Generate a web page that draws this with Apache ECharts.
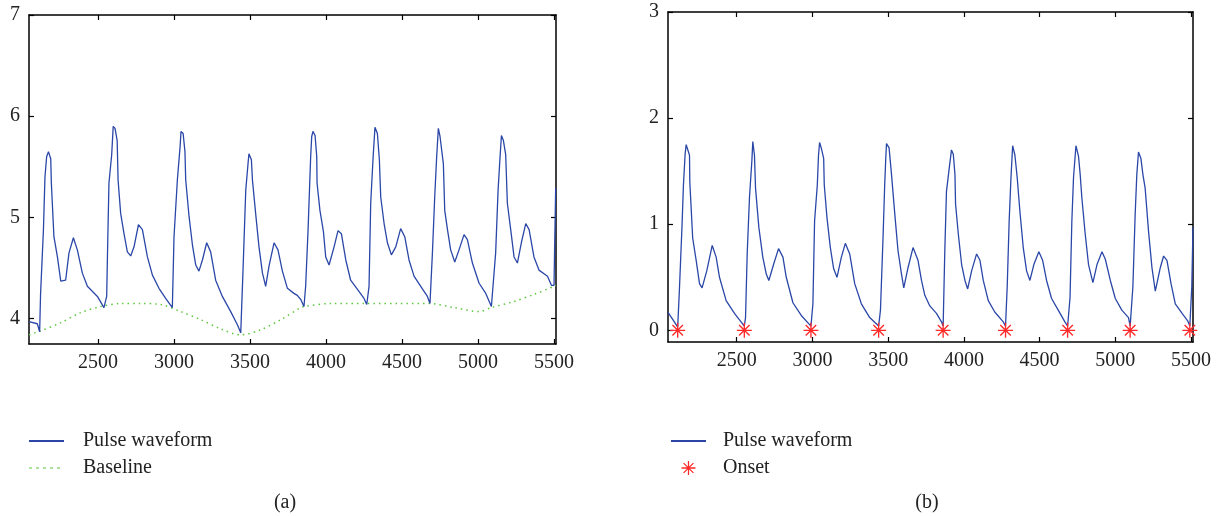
<!DOCTYPE html>
<html>
<head>
<meta charset="utf-8">
<script src="https://cdn.jsdelivr.net/npm/echarts@6/dist/echarts.min.js"></script>
<style>
html,body{margin:0;padding:0;background:#fff;}
#chart{width:1221px;height:516px;}
</style>
</head>
<body>
<div id="chart"></div>
<script>
// ---- data ----
var xTicks = [2500, 3000, 3500, 4000, 4500, 5000, 5500];
var yTicksA = [4, 5, 6, 7];
var yTicksB = [0, 1, 2, 3];

// (a) pulse waveform [sample, value]
var waveformA = [
  [2046,3.97],[2101,3.95],[2116,3.87],[2122,4.24],[2141,4.88],[2151,5.40],[2162,5.60],[2174,5.65],[2189,5.58],[2193,5.34],[2210,4.81],[2233,4.61],[2255,4.37],[2287,4.38],[2309,4.65],[2338,4.80],[2364,4.68],[2397,4.45],[2430,4.32],[2496,4.22],[2539,4.11],
  [2557,4.22],[2564,4.76],[2572,5.34],[2590,5.62],[2600,5.90],[2612,5.88],[2626,5.76],[2632,5.37],[2649,5.04],[2671,4.84],[2693,4.66],[2715,4.62],[2737,4.71],[2766,4.93],[2792,4.88],[2825,4.61],[2858,4.43],[2901,4.30],[2945,4.20],[2989,4.11],
  [2995,4.12],[3000,4.81],[3022,5.37],[3040,5.70],[3046,5.85],[3060,5.83],[3072,5.65],[3077,5.37],[3099,5.01],[3121,4.73],[3143,4.53],[3164,4.47],[3187,4.58],[3215,4.75],[3241,4.66],[3274,4.38],[3318,4.22],[3373,4.07],[3417,3.94],[3439,3.86],
  [3454,4.48],[3472,5.27],[3488,5.55],[3493,5.63],[3509,5.57],[3516,5.37],[3537,5.04],[3559,4.71],[3582,4.45],[3603,4.32],[3625,4.52],[3658,4.75],[3684,4.68],[3713,4.47],[3746,4.30],[3789,4.25],[3811,4.23],[3834,4.19],[3855,4.12],
  [3866,4.32],[3882,4.88],[3899,5.60],[3906,5.80],[3914,5.85],[3928,5.81],[3939,5.60],[3941,5.34],[3960,5.07],[3983,4.86],[3998,4.61],[4020,4.53],[4053,4.71],[4079,4.87],[4101,4.84],[4130,4.58],[4162,4.38],[4207,4.29],[4250,4.20],[4268,4.14],
  [4283,4.32],[4294,5.14],[4310,5.60],[4322,5.89],[4338,5.83],[4351,5.57],[4360,5.20],[4382,4.94],[4404,4.75],[4430,4.63],[4459,4.71],[4491,4.89],[4518,4.81],[4546,4.58],[4579,4.42],[4623,4.32],[4667,4.22],[4684,4.15],
  [4700,4.65],[4715,5.20],[4728,5.60],[4739,5.88],[4750,5.80],[4772,5.53],[4781,5.07],[4799,4.88],[4820,4.68],[4847,4.56],[4875,4.68],[4908,4.83],[4930,4.78],[4963,4.55],[5007,4.35],[5051,4.25],[5088,4.12],
  [5116,4.65],[5132,5.27],[5145,5.60],[5154,5.81],[5167,5.76],[5182,5.62],[5193,5.14],[5215,4.88],[5237,4.61],[5259,4.55],[5285,4.75],[5314,4.94],[5336,4.88],[5368,4.61],[5401,4.48],[5457,4.42],[5483,4.33],[5500,4.33],[5504,4.71],[5511,5.29]
];

// (a) baseline
var baselineA = [
  [2046,3.84],[2123,3.88],[2255,3.96],[2386,4.06],[2518,4.12],[2649,4.15],[2781,4.15],[2912,4.14],[3044,4.07],[3176,3.99],[3307,3.90],[3439,3.84],[3570,3.89],[3702,3.99],[3834,4.11],[3855,4.12],[4031,4.15],[4250,4.15],[4470,4.15],[4678,4.15],[4842,4.11],[5007,4.07],[5088,4.11],[5237,4.17],[5368,4.24],[5500,4.32],[5513,4.33]
];

// (b) baseline-corrected pulse waveform
var waveformB = [
  [2046,0.17],[2055,0.16],[2088,0.08],[2110,0.03],[2121,0.37],[2139,1.00],[2148,1.37],[2159,1.66],[2166,1.75],[2176,1.76],[2188,1.65],[2190,1.40],[2209,0.87],[2232,0.66],[2254,0.44],[2271,0.40],[2302,0.56],[2338,0.80],[2364,0.69],[2386,0.50],[2430,0.28],[2485,0.16],[2550,0.04],
  [2558,0.12],[2569,0.72],[2584,1.25],[2600,1.60],[2606,1.78],[2617,1.65],[2624,1.34],[2646,0.97],[2672,0.69],[2695,0.53],[2712,0.47],[2743,0.62],[2776,0.77],[2805,0.69],[2827,0.50],[2871,0.26],[2926,0.14],[2990,0.04],
  [3003,0.25],[3014,1.03],[3032,1.37],[3040,1.65],[3047,1.77],[3058,1.72],[3074,1.62],[3078,1.37],[3096,1.06],[3118,0.78],[3140,0.58],[3162,0.50],[3191,0.69],[3217,0.82],[3246,0.72],[3279,0.44],[3323,0.25],[3378,0.12],[3437,0.04],
  [3449,0.19],[3466,0.87],[3477,1.37],[3484,1.62],[3489,1.76],[3506,1.72],[3522,1.47],[3544,1.09],[3565,0.75],[3588,0.53],[3603,0.40],[3631,0.59],[3664,0.78],[3697,0.66],[3720,0.47],[3742,0.33],[3775,0.23],[3819,0.16],[3852,0.08],[3863,0.04],
  [3874,0.75],[3885,1.31],[3905,1.55],[3918,1.70],[3930,1.66],[3941,1.47],[3945,1.19],[3963,0.91],[3985,0.62],[4007,0.47],[4025,0.39],[4051,0.56],[4084,0.72],[4106,0.66],[4128,0.47],[4161,0.28],[4205,0.17],[4260,0.08],[4275,0.04],
  [4286,0.41],[4299,1.03],[4311,1.44],[4322,1.74],[4337,1.65],[4352,1.44],[4370,1.12],[4392,0.78],[4414,0.56],[4436,0.47],[4462,0.62],[4495,0.74],[4520,0.66],[4546,0.47],[4579,0.30],[4623,0.19],[4667,0.08],[4685,0.04],
  [4701,0.31],[4713,1.03],[4724,1.44],[4740,1.74],[4757,1.64],[4768,1.47],[4779,1.25],[4801,0.91],[4823,0.62],[4852,0.45],[4879,0.62],[4912,0.74],[4934,0.67],[4967,0.47],[5000,0.30],[5043,0.19],[5087,0.12],[5098,0.04],
  [5116,0.41],[5131,1.09],[5142,1.47],[5153,1.68],[5169,1.62],[5182,1.47],[5197,1.34],[5219,0.94],[5242,0.59],[5264,0.37],[5297,0.59],[5319,0.70],[5341,0.66],[5368,0.44],[5396,0.25],[5441,0.16],[5478,0.09],[5492,0.04],[5505,0.41],[5513,0.97]
];

// (b) detected onsets
var onsetX = [2110, 2550, 2990, 3437, 3863, 4275, 4685, 5098, 5492];
var onsetY = [0, 0, 0, 0, 0, 0, 0, 0, 0];

// ---- chart ----
var FONT = '"Liberation Serif", "DejaVu Serif", serif';
var BLUE = '#2a47a8', GREEN = '#5cc83c', RED = '#ff2a2a';
var STAR = 'path://M-10,-0.9L10,-0.9L10,0.9L-10,0.9ZM-0.9,-10L0.9,-10L0.9,10L-0.9,10ZM-6.36,-7.64L7.64,6.36L6.36,7.64L-7.64,-6.36ZM-7.64,6.36L6.36,-7.64L7.64,-6.36L-6.36,7.64Z';

function plain(v) { return String(v); }

function xAx(grid, pos, labels) {
  return {
    type: 'value', gridIndex: grid, position: pos, min: 2046, max: 5513,
    axisLine: { show: true, onZero: false, lineStyle: { color: '#000', width: 1.5 } },
    axisTick: { show: true, inside: true, length: 5, customValues: xTicks, lineStyle: { color: '#000', width: 1.2 } },
    axisLabel: { show: labels, customValues: xTicks, formatter: plain, margin: 9, color: '#222', fontSize: 20, fontFamily: FONT },
    splitLine: { show: false }
  };
}
function yAx(grid, pos, labels, min, max, ticks) {
  return {
    type: 'value', gridIndex: grid, position: pos, min: min, max: max,
    axisLine: { show: true, onZero: false, lineStyle: { color: '#000', width: 1.5 } },
    axisTick: { show: true, inside: true, length: 5, customValues: ticks, lineStyle: { color: '#000', width: 1.2 } },
    axisLabel: { show: labels, customValues: ticks, formatter: plain, margin: 9, color: '#222', fontSize: 20, fontFamily: FONT },
    splitLine: { show: false }
  };
}

var onsetData = onsetX.map(function (x, i) { return [x, onsetY[i]]; });
var hideSym = { opacity: 0 };

var option = {
  animation: false,
  backgroundColor: '#fff',
  grid: [
    { left: 29, top: 15, width: 527, height: 329 },
    { left: 668, top: 12, width: 525, height: 330 }
  ],
  xAxis: [xAx(0, 'bottom', true), xAx(0, 'top', false), xAx(1, 'bottom', true), xAx(1, 'top', false)],
  yAxis: [yAx(0, 'left', true, 3.75, 7, yTicksA), yAx(0, 'right', false, 3.75, 7, yTicksA),
          yAx(1, 'left', true, -0.11, 3, yTicksB), yAx(1, 'right', false, -0.11, 3, yTicksB)],
  legend: [
    { orient: 'vertical', left: 28, top: 431, padding: 0, itemWidth: 35, itemHeight: 14, itemGap: 7,
      data: [{ name: 'Pulse waveform', itemStyle: hideSym },
             { name: 'Baseline', itemStyle: hideSym, lineStyle: { type: [3, 4], width: 1.2 } }],
      selectedMode: false,
      textStyle: { fontSize: 20, fontFamily: FONT, color: '#222', lineHeight: 20, padding: [0, 0, 0, 14] } },
    { orient: 'vertical', left: 670, top: 431, padding: 0, itemWidth: 35, itemHeight: 14, itemGap: 7,
      data: [{ name: 'Pulse waveform ', itemStyle: hideSym }, { name: 'Onset' }],
      selectedMode: false,
      textStyle: { fontSize: 20, fontFamily: FONT, color: '#222', lineHeight: 20, padding: [0, 0, 0, 12] } }
  ],
  graphic: [
    { type: 'text', x: 285, y: 503, style: { text: '(a)', font: '20px ' + FONT, fill: '#222', textAlign: 'center', textVerticalAlign: 'middle' } },
    { type: 'text', x: 927, y: 503, style: { text: '(b)', font: '20px ' + FONT, fill: '#222', textAlign: 'center', textVerticalAlign: 'middle' } }
  ],
  series: [
    { name: 'Pulse waveform', type: 'line', xAxisIndex: 0, yAxisIndex: 0, data: waveformA,
      symbol: 'none', lineStyle: { color: BLUE, width: 1.3 }, itemStyle: { color: BLUE }, z: 3 },
    { name: 'Baseline', type: 'line', xAxisIndex: 0, yAxisIndex: 0, data: baselineA, smooth: 0.3,
      symbol: 'none', lineStyle: { color: GREEN, width: 1.5, type: [1.5, 4] }, itemStyle: { color: GREEN }, z: 2 },
    { name: 'Pulse waveform ', type: 'line', xAxisIndex: 2, yAxisIndex: 2, data: waveformB,
      symbol: 'none', lineStyle: { color: BLUE, width: 1.3 }, itemStyle: { color: BLUE }, z: 2 },
    { name: 'Onset', type: 'scatter', xAxisIndex: 2, yAxisIndex: 2, data: onsetData,
      symbol: STAR, symbolSize: 15, symbolKeepAspect: true, itemStyle: { color: RED, opacity: 1 }, z: 3 }
  ]
};

var chart = echarts.init(document.getElementById('chart'), null, { renderer: 'canvas' });
chart.setOption(option);
</script>
</body>
</html>
